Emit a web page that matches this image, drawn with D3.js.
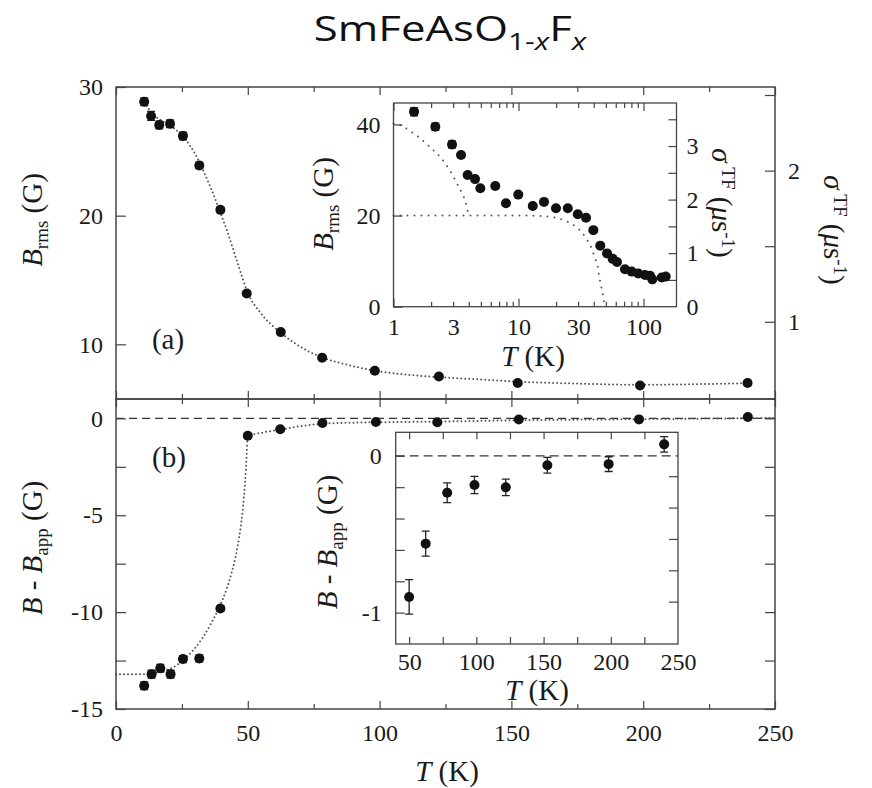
<!DOCTYPE html>
<html>
<head>
<meta charset="utf-8">
<script src="https://cdn.jsdelivr.net/npm/d3@7"></script>
<style>
  html, body { margin: 0; padding: 0; background: #fff; }
  svg { display: block; }
</style>
</head>
<body>
<div id="chart"></div>
<script>
// Muon spin rotation fields in SmFeAsO1-xFx: linewidth and field shift vs temperature

const GAMMA_MU = 0.0851; // muon gyromagnetic ratio, μs^-1 per G

// Panel (a): B_rms vs T
const tempA = [10.7, 13.3, 16.4, 20.5, 25.4, 31.6, 39.6, 49.6, 62.5, 78.2, 98.2, 122.5, 152.4, 198.8, 239.6];
const bRms = [28.85, 27.75, 27.05, 27.15, 26.2, 23.9, 20.45, 13.95, 10.95, 8.95, 7.95, 7.5, 7.0, 6.8, 7.0];
const bRmsErr = [0.3, 0.35, 0.3, 0.3, 0.3, 0.25, 0.2, 0.2, 0.15, 0.15, 0.15, 0.15, 0.15, 0.15, 0.15];
const fitTempA = [10.7, 14, 18, 22, 26, 30, 34, 38, 42, 46, 50, 55, 62.5, 70, 78, 88, 98, 110, 122.5, 140, 152, 175, 199, 220, 240];
const fitBrms = [28.8, 27.9, 27.3, 26.8, 26.0, 24.8, 23.1, 21.1, 18.9, 16.4, 14.0, 12.4, 10.9, 9.8, 9.0, 8.4, 7.95, 7.65, 7.45, 7.25, 7.1, 6.95, 6.85, 6.9, 6.98];

// Panel (b): B - B_app vs T
const tempB = [10.7, 13.5, 16.8, 20.7, 25.4, 31.6, 39.6, 50.0, 62.3, 78.3, 98.6, 121.9, 152.8, 198.4, 239.7];
const shiftB = [-13.8, -13.2, -12.9, -13.2, -12.42, -12.39, -9.81, -0.90, -0.56, -0.235, -0.186, -0.201, -0.06, -0.053, 0.073];
const shiftErr = [0.2, 0.2, 0.2, 0.2, 0.18, 0.18, 0.15, 0.11, 0.08, 0.063, 0.055, 0.053, 0.05, 0.047, 0.05];
const fitTempB = [0, 5, 10, 15, 20, 24, 27, 30, 33, 36, 39, 42, 44, 46, 47.5, 48.5, 49.3, 50, 56, 62.5, 70, 78, 90, 100, 125, 150, 200, 250];
const fitShiftB = [-13.2, -13.2, -13.2, -13.15, -12.95, -12.65, -12.3, -11.85, -11.3, -10.6, -9.8, -8.8, -7.9, -6.7, -5.4, -4.1, -2.6, -0.95, -0.72, -0.58, -0.4, -0.28, -0.22, -0.2, -0.16, -0.1, -0.04, 0.02];

// Inset of (a): B_rms vs T on a log axis
const insetTemp = [1.46, 2.16, 2.94, 3.47, 3.92, 4.49, 4.95, 6.52, 7.94, 9.96, 13.0, 16.0, 19.95, 24.8, 29.8, 34.7, 39.7, 45.1, 51.1, 56.7, 61.4, 71.1, 80.5, 90.8, 102.8, 112.7, 117.6, 140, 150.6];
const insetBrms = [42.8, 39.5, 35.6, 33.3, 28.9, 28.0, 26.0, 26.5, 22.7, 24.6, 22.1, 23.0, 21.6, 21.6, 20.3, 19.5, 16.8, 13.4, 11.7, 10.5, 9.8, 8.2, 7.7, 7.3, 6.95, 6.8, 6.0, 6.4, 6.6];
const insetErr = [0.9, 0.8, 0.8, 0.5, 0.4, 0.4, 0.4, 0.4, 0.4, 0.4, 0.35, 0.35, 0.35, 0.35, 0.3, 0.3, 0.3, 0.3, 0.3, 0.3, 0.3, 0.3, 0.3, 0.3, 0.3, 0.3, 0.3, 0.3, 0.3];
const lowCompTemp = [1, 1.2, 1.38, 1.58, 1.79, 2.02, 2.28, 2.55, 2.8, 3.05, 3.3, 3.55, 3.78, 3.92, 4.0];
const lowCompB = [40.2, 39.5, 38.4, 37.3, 36.0, 34.7, 33.3, 31.7, 30.0, 28.3, 26.5, 24.8, 22.9, 21.0, 20.0];
const scCompTemp = [1, 5, 10, 15, 19, 24.9, 28.9, 32.4, 35.5, 38.6, 40.9, 43.0, 44.0, 45.3, 47.0, 48.2, 48.9];
const scCompB = [20, 20, 20, 19.9, 19.6, 18.6, 17.5, 16.2, 14.6, 12.7, 10.6, 8.9, 7.0, 5.1, 3.1, 1.3, 0];

// Tick sets
const mainXMajor = [0, 50, 100, 150, 200, 250];
const mainXMinor = [25, 75, 125, 175, 225];
const brmsTicks = [10, 20, 30];
const sigmaMainLabels = [1, 2];
const sigmaMainMinor = [1.5, 2.5];
const shiftMajor = [-15, -10, -5, 0];
const shiftMinor = [-12.5, -7.5, -2.5];
const insetLogMajor = [1, 10, 100];
const insetLogMinor = [2, 3, 4, 5, 6, 7, 8, 9, 20, 30, 40, 50, 60, 70, 80, 90];
const insetLogLabels = [1, 3, 10, 30, 100];
const insetBrmsTicks = [0, 20, 40];
const insetSigmaTicks = [0.5, 1, 1.5, 2, 2.5, 3, 3.5];
const insetSigmaLabels = [0, 1, 2, 3];
const insetShiftX = [50, 75, 100, 125, 150, 175, 200, 225];
const insetShiftXLabels = [50, 100, 150, 200, 250];
const insetShiftTicks = [-1, -0.8, -0.6, -0.4, -0.2, 0];
const insetShiftLabels = [-1, 0];
const insetShiftRight = [-0.93, -0.73, -0.53, -0.33, -0.13];

const SERIF = '"Liberation Serif", "Times New Roman", serif';
const INK = '#1a1a1a';
const FRAME = '#444';
const TICK_FONT = 24;
const TITLE_FONT = 29;

const svg = d3.select('#chart').append('svg')
    .attr('width', 872)
    .attr('height', 788)
    .style('background', '#fff');

// Scales
const xMain = d3.scaleLinear().domain([0, 250]).range([116, 775]);
const yA = d3.scaleLinear().domain([5.75, 30]).range([399, 87]);
const sigmaA = d3.scaleLinear().domain([5.75 * GAMMA_MU, 30 * GAMMA_MU]).range([399, 87]);
const yB = d3.scaleLinear().domain([-15, 1]).range([709, 399]);

const xInA = d3.scaleLog().domain([1, 183.7]).range([393.5, 676.5]);
const yInA = d3.scaleLinear().domain([0, 44.7]).range([306.7, 103]);
const sigmaInA = d3.scaleLinear().domain([0, 44.7 * GAMMA_MU]).range([306.7, 103]);

const xInB = d3.scaleLinear().domain([40, 250]).range([395.7, 678]);
const yInB = d3.scaleLinear().domain([-1.2, 0.15]).range([644, 432.3]);

// Helpers
const axisFor = { bottom: d3.axisBottom, top: d3.axisTop, left: d3.axisLeft, right: d3.axisRight };

function tickMarks(orient, scale, pos, values, len) {
    const vertical = orient === 'left' || orient === 'right';
    const g = svg.append('g')
        .attr('transform', vertical ? `translate(${pos},0)` : `translate(0,${pos})`)
        .call(axisFor[orient](scale).tickValues(values).tickSizeInner(-len).tickSizeOuter(0).tickFormat(() => ''));
    g.select('.domain').remove();
    g.selectAll('text').remove();
    g.selectAll('line').attr('stroke', FRAME).attr('stroke-width', 1.2);
    return g;
}

function tickLabels(orient, scale, pos, values, pad) {
    const vertical = orient === 'left' || orient === 'right';
    const g = svg.append('g')
        .attr('transform', vertical ? `translate(${pos},0)` : `translate(0,${pos})`)
        .call(axisFor[orient](scale).tickValues(values).tickSize(0).tickPadding(pad).tickFormat(d => String(d)));
    g.select('.domain').remove();
    g.selectAll('line').remove();
    g.attr('font-family', SERIF).attr('font-size', TICK_FONT);
    g.selectAll('text')
        .attr('fill', INK)
        .style('font-family', SERIF)
        .style('font-size', TICK_FONT + 'px');
    return g;
}

function frame(x0, x1, y0, y1, width) {
    svg.append('rect')
        .attr('x', x0).attr('y', y0)
        .attr('width', x1 - x0).attr('height', y1 - y0)
        .attr('fill', 'none')
        .attr('stroke', FRAME)
        .attr('stroke-width', width);
}

function dottedCurve(xs, ys, sx, sy, gap) {
    const pts = xs.map((x, i) => [x, ys[i]]);
    const line = d3.line()
        .x(d => sx(d[0]))
        .y(d => sy(d[1]))
        .curve(d3.curveMonotoneX);
    svg.append('path')
        .attr('d', line(pts))
        .attr('fill', 'none')
        .attr('stroke', '#555')
        .attr('stroke-width', 2)
        .attr('stroke-linecap', 'round')
        .attr('stroke-dasharray', `0 ${gap}`);
}

function dashedZero(sx, sy, x0, x1, dash) {
    svg.append('line')
        .attr('x1', sx(x0)).attr('x2', sx(x1))
        .attr('y1', sy(0)).attr('y2', sy(0))
        .attr('stroke', '#333')
        .attr('stroke-width', 1.3)
        .attr('stroke-dasharray', dash);
}

function points(xs, ys, errs, sx, sy, r, cap) {
    const data = xs.map((x, i) => ({ x, y: ys[i], e: errs[i] }));
    const g = svg.append('g');
    g.selectAll('.err')
        .data(data)
        .enter()
        .append('path')
        .attr('class', 'err')
        .attr('d', d => {
            const x = sx(d.x), lo = sy(d.y - d.e), hi = sy(d.y + d.e);
            return `M${x},${lo}V${hi}M${x - cap},${lo}h${2 * cap}M${x - cap},${hi}h${2 * cap}`;
        })
        .attr('fill', 'none')
        .attr('stroke', '#222')
        .attr('stroke-width', 1.3);
    g.selectAll('.pt')
        .data(data)
        .enter()
        .append('circle')
        .attr('class', 'pt')
        .attr('cx', d => sx(d.x))
        .attr('cy', d => sy(d.y))
        .attr('r', r)
        .attr('fill', '#111');
}

// Rich text label built from tspans: t = text, i = italic, s = size, dy = shift
function richText(x, y, rotate, parts, anchor) {
    const t = svg.append('text')
        .attr('transform', `translate(${x},${y}) rotate(${rotate})`)
        .attr('text-anchor', anchor || 'middle')
        .attr('font-family', SERIF)
        .attr('font-size', TITLE_FONT)
        .attr('fill', INK);
    parts.forEach(p => {
        const s = t.append('tspan').text(p.t);
        if (p.i) s.attr('font-style', 'italic');
        if (p.s) s.attr('font-size', p.s);
        if (p.dy) s.attr('dy', p.dy);
    });
    return t;
}

// Main frames
svg.append('rect').attr('x', 116).attr('y', 87).attr('width', 659).attr('height', 622).attr('fill', '#fff');

// Panel (a) content
dottedCurve(fitTempA, fitBrms, xMain, yA, 4);
points(tempA, bRms, bRmsErr, xMain, yA, 5, 4);

// Panel (b) content
dashedZero(xMain, yB, 0, 250, '8 5');
dottedCurve(fitTempB, fitShiftB, xMain, yB, 4);
points(tempB, shiftB, shiftErr, xMain, yB, 5, 4);

frame(116, 775, 87, 399, 1.5);
frame(116, 775, 399, 709, 1.5);

// Panel (a) ticks
tickMarks('top', xMain, 87, mainXMajor, 8);
tickMarks('top', xMain, 87, mainXMinor, 5);
tickMarks('bottom', xMain, 399, mainXMajor, 8);
tickMarks('bottom', xMain, 399, mainXMinor, 5);
tickMarks('left', yA, 116, brmsTicks, 10);
tickLabels('left', yA, 116, brmsTicks, 13);
tickMarks('right', sigmaA, 775, sigmaMainLabels, 10);
tickMarks('right', sigmaA, 775, sigmaMainMinor, 10);
tickLabels('right', sigmaA, 775, sigmaMainLabels, 13);

// Panel (b) ticks
tickMarks('top', xMain, 399, mainXMajor, 8);
tickMarks('top', xMain, 399, mainXMinor, 5);
tickMarks('bottom', xMain, 709, mainXMajor, 8);
tickMarks('bottom', xMain, 709, mainXMinor, 5);
tickLabels('bottom', xMain, 709, mainXMajor, 15);
tickMarks('left', yB, 116, shiftMajor, 10);
tickMarks('left', yB, 116, shiftMinor, 10);
tickLabels('left', yB, 116, shiftMajor, 13);
tickMarks('right', yB, 775, shiftMajor.concat(shiftMinor), 10);

// Main axis titles
richText(447, 781, 0, [{ t: 'T', i: true }, { t: ' (K)' }]);
richText(42, 220, -90, [{ t: 'B', i: true }, { t: 'rms', s: 19, dy: 6 }, { t: ' (G)', dy: -6 }]);
richText(42, 548, -90, [{ t: 'B', i: true }, { t: ' - ' }, { t: 'B', i: true }, { t: 'app', s: 19, dy: 6 }, { t: ' (G)', dy: -6 }]);
richText(824, 230, 90, [{ t: 'σ', i: true }, { t: ' TF', s: 19, dy: -10 }, { t: ' (', dy: 10 }, { t: 'μ', i: true }, { t: 's' }, { t: '-1', s: 19, dy: -10 }, { t: ')', dy: 10 }]);
richText(168, 349, 0, [{ t: '(a)' }]);
richText(169, 467, 0, [{ t: '(b)' }]);

// Inset of (a)
svg.append('rect').attr('x', 393.5).attr('y', 103).attr('width', 283).attr('height', 203.7).attr('fill', '#fff');
dottedCurve(lowCompTemp, lowCompB, xInA, yInA, 7);
dottedCurve(scCompTemp, scCompB, xInA, yInA, 7);
points(insetTemp, insetBrms, insetErr, xInA, yInA, 5, 4);
frame(393.5, 676.5, 103, 306.7, 1.3);
tickMarks('bottom', xInA, 306.7, insetLogMajor, 8);
tickMarks('bottom', xInA, 306.7, insetLogMinor, 5);
tickMarks('top', xInA, 103, insetLogMajor, 8);
tickMarks('top', xInA, 103, insetLogMinor, 5);
tickLabels('bottom', xInA, 306.7, insetLogLabels, 11);
tickMarks('left', yInA, 393.5, insetBrmsTicks, 9);
tickLabels('left', yInA, 393.5, insetBrmsTicks, 13);
tickMarks('right', sigmaInA, 676.5, insetSigmaTicks, 8);
tickLabels('right', sigmaInA, 676.5, insetSigmaLabels, 10);
richText(533, 366, 0, [{ t: 'T', i: true }, { t: ' (K)' }]);
richText(333, 204, -90, [{ t: 'B', i: true }, { t: 'rms', s: 19, dy: 6 }, { t: ' (G)', dy: -6 }]);
richText(712, 203, 90, [{ t: 'σ', i: true }, { t: ' TF', s: 19, dy: -10 }, { t: ' (', dy: 10 }, { t: 'μ', i: true }, { t: 's' }, { t: '-1', s: 19, dy: -10 }, { t: ')', dy: 10 }]);

// Inset of (b): high-temperature points on an expanded scale
const hiIdx = d3.range(tempB.length).filter(i => tempB[i] >= 45);
svg.append('rect').attr('x', 395.7).attr('y', 432.3).attr('width', 282.3).attr('height', 211.7).attr('fill', '#fff');
dashedZero(xInB, yInB, 40, 250, '9 5');
points(hiIdx.map(i => tempB[i]), hiIdx.map(i => shiftB[i]), hiIdx.map(i => shiftErr[i]), xInB, yInB, 5, 4);
frame(395.7, 678, 432.3, 644, 1.3);
tickMarks('bottom', xInB, 644, insetShiftX, 7);
tickMarks('top', xInB, 432.3, insetShiftX, 7);
tickLabels('bottom', xInB, 644, insetShiftXLabels, 9);
tickMarks('left', yInB, 395.7, insetShiftTicks, 9);
tickLabels('left', yInB, 395.7, insetShiftLabels, 14);
tickMarks('right', yInB, 678, insetShiftRight, 9);
richText(537, 700, 0, [{ t: 'T', i: true }, { t: ' (K)' }]);
richText(337, 542, -90, [{ t: 'B', i: true }, { t: ' - ' }, { t: 'B', i: true }, { t: 'app', s: 19, dy: 6 }, { t: ' (G)', dy: -6 }]);

// Compound name above the plot
const title = svg.append('text')
    .attr('transform', 'translate(450,41) scale(1.25,1)')
    .attr('text-anchor', 'middle')
    .attr('font-family', '"Open Sans", "Noto Sans", sans-serif')
    .attr('font-size', 35)
    .attr('fill', '#111');
title.append('tspan').text('SmFeAsO');
title.append('tspan').attr('font-size', 24).attr('dy', 9).text('1-');
title.append('tspan').attr('font-size', 24).attr('font-style', 'italic').text('x');
title.append('tspan').attr('dy', -9).text('F');
title.append('tspan').attr('font-size', 24).attr('font-style', 'italic').attr('dy', 9).text('x');
</script>
</body>
</html>
